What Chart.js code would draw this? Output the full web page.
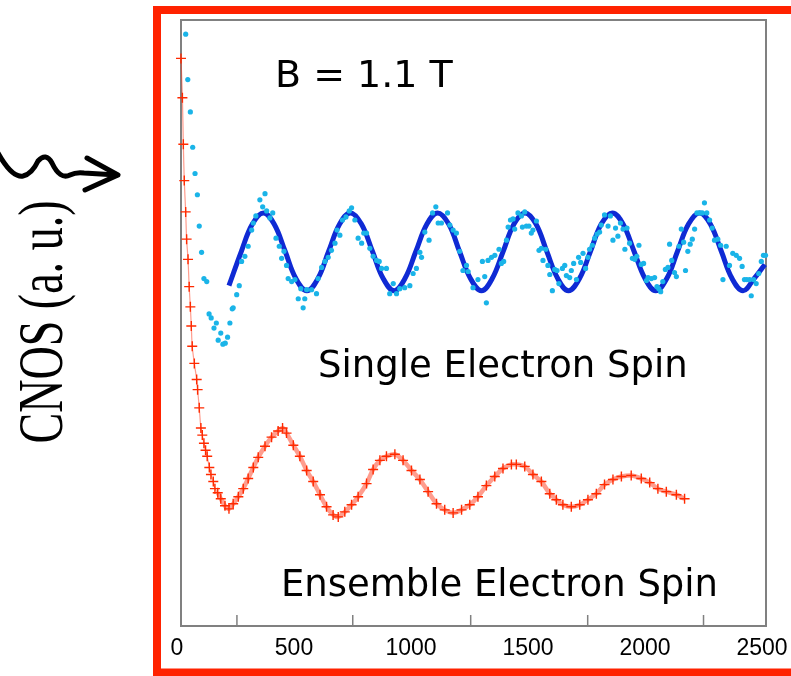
<!DOCTYPE html>
<html>
<head>
<meta charset="utf-8">
<script src="https://cdn.jsdelivr.net/npm/chart.js@4.4.1/dist/chart.umd.min.js"></script>
<style>
  html, body { margin: 0; padding: 0; background: #fff; }
  #wrap { width: 791px; height: 676px; }
</style>
</head>
<body>
<div id="wrap"><canvas id="cnos" width="791" height="676"></canvas></div>
<script>
// x: time, y: CNOS signal (a. u.)
const xTickLabels = [0, 500, 1000, 1500, 2000, 2500];
const xTickMarks = [239, 734, 1238, 1738, 2233];

const singleTime = [
  20, 29, 40, 50, 60, 70, 78, 88, 98, 110, 120, 129, 141, 151, 159, 170, 179, 189, 199, 209, 219,
  223, 238, 249, 259, 273, 287, 302, 309, 320, 337, 349, 359, 366, 380, 392, 406, 420, 430, 440, 451,
  458, 473, 487, 501, 512, 522, 529, 537, 558, 579, 586, 601, 615, 629, 643, 658, 667, 679, 690, 705,
  719, 729, 743, 757, 772, 781, 793, 807, 821, 836, 847, 857, 878, 892, 907, 921, 935, 956, 978, 992,
  1006, 1021, 1028, 1042, 1060, 1075, 1089, 1099, 1113, 1139, 1149, 1163, 1177, 1191, 1205, 1220, 1227, 1248, 1269, 1288,
  1298, 1305, 1312, 1327, 1341, 1359,
  1369, 1379, 1391, 1398, 1408, 1419, 1426, 1440, 1455, 1459, 1469, 1476, 1487, 1497, 1504, 1519, 1530, 1540, 1547, 1559,
  1568, 1576, 1587, 1597, 1607, 1615, 1630, 1640, 1647, 1661, 1668, 1678, 1690, 1699, 1708, 1718, 1729, 1739, 1746, 1758,
  1768, 1778, 1789, 1796, 1810, 1825, 1835, 1846, 1857, 1867, 1878, 1889, 1897, 1906, 1917, 1929, 1939, 1948, 1957, 1967,
  1977, 1989, 1996, 2010, 2024, 2034, 2042, 2050, 2059, 2070, 2081, 2088, 2097, 2109, 2117, 2128, 2138, 2148, 2156, 2166,
  2176, 2185, 2195, 2205, 2216, 2228, 2237, 2247, 2259, 2270, 2280, 2294, 2306, 2316, 2330, 2344, 2358, 2373, 2387, 2398,
  2408, 2418, 2430, 2437, 2447, 2458, 2469, 2480, 2489, 2498
];
const singleCnos = [
  5.86, 5.41, 5.09, 4.74, 4.48, 4.27, 3.96, 3.70, 3.44, 3.41, 3.09, 3.05, 2.95, 3.00, 2.83, 2.90, 2.79, 2.80, 2.86, 3.00, 3.14,
  3.15, 3.28, 3.37, 3.61, 3.66, 3.76, 3.92, 3.99, 4.06, 4.22, 4.15, 4.28, 4.11, 4.04, 4.09, 3.84, 3.76, 3.64, 3.71, 3.57,
  3.44, 3.41, 3.43, 3.24, 3.34, 3.15, 3.24, 3.33, 3.33, 3.29, 3.44, 3.55, 3.61, 3.65, 3.72, 3.79, 3.92, 3.87, 4.02, 4.05,
  4.11, 4.14, 4.02, 3.84, 3.79, 3.89, 3.89, 3.74, 3.66, 3.62, 3.61, 3.54, 3.54, 3.29, 3.39, 3.29, 3.34, 3.35, 3.37, 3.49,
  3.54, 3.70, 3.65, 3.90, 3.82, 4.09, 4.15, 3.99, 3.99, 4.09, 3.97, 3.92, 3.89, 3.71, 3.52, 3.57, 3.51, 3.35, 3.43, 3.61,
  3.46, 3.20, 3.62, 3.65, 3.67, 3.73,
  3.59, 3.61, 3.82, 3.95, 4.02, 4.03, 3.93, 4.09, 4.06, 3.95, 4.10, 3.96, 3.96, 3.89, 3.92, 4.01, 3.72, 3.74, 3.62, 3.73,
  3.57, 3.48, 3.32, 3.53, 3.52, 3.39, 3.54, 3.57, 3.47, 3.45, 3.52, 3.59, 3.43, 3.65, 3.60, 3.69, 3.54, 3.65, 3.73, 3.77,
  3.84, 3.88, 3.90, 3.97, 4.07, 3.96, 4.06, 3.82, 3.94, 3.86, 3.99, 3.93, 3.73, 3.94, 3.79, 3.64, 3.63, 3.66, 3.77, 3.58,
  3.59, 3.42, 3.45, 3.44, 3.45, 3.36, 3.34, 3.31, 3.41, 3.53, 3.55, 3.78, 3.62, 3.50, 3.46, 3.76, 3.93, 3.80, 3.52, 3.71,
  3.78, 3.83, 3.93, 4.09, 4.09, 4.09, 4.19, 4.09, 4.02, 3.94, 3.82, 3.83, 3.77, 3.43, 3.76, 3.57, 3.69, 3.67, 3.64, 3.56,
  3.43, 3.43, 3.43, 3.27, 3.43, 3.39, 3.49, 3.61, 3.67, 3.67
];

const fitTime = [
  205, 258, 305, 352, 398, 445, 491, 538, 585, 631, 678, 724, 771, 818, 864, 911, 957,
  1004, 1051, 1097, 1144, 1190, 1237, 1284, 1330, 1377, 1423, 1470, 1517, 1563, 1610, 1656,
  1703, 1750, 1796, 1843, 1889, 1936, 1983, 2029, 2076, 2122, 2169, 2216, 2262, 2309, 2355,
  2402, 2449, 2495
];
const fitCnos = [
  3.37, 3.71, 3.98, 4.09, 3.98, 3.71, 3.44, 3.32, 3.44, 3.71, 3.98, 4.09, 3.98, 3.71, 3.44, 3.32, 3.44,
  3.71, 3.98, 4.09, 3.98, 3.71, 3.44, 3.32, 3.44, 3.71, 3.98, 4.09, 3.98, 3.71, 3.44, 3.32,
  3.44, 3.71, 3.98, 4.09, 3.98, 3.71, 3.44, 3.32, 3.44, 3.71, 3.98, 4.09, 3.98, 3.71, 3.44,
  3.32, 3.44, 3.58
];

const ensembleTime = [
  0, 6, 10, 14, 20, 24, 30, 35, 40, 44, 48, 57, 67, 71, 78, 85, 91, 98, 105, 112,
  121, 128, 138, 145, 157, 170, 188, 205, 223, 245, 266, 287, 309, 330, 359, 387, 415, 434, 451, 480,
  508, 537, 565, 594, 622, 650, 672, 700, 729, 757, 793, 821, 850, 878, 914, 949, 985, 1021, 1056, 1092,
  1127, 1163, 1199, 1234, 1269, 1305, 1341, 1376, 1412, 1433, 1469, 1504, 1540, 1576, 1604, 1632, 1668, 1704, 1739, 1775,
  1810, 1846, 1882, 1924, 1967, 2003, 2038, 2074, 2117, 2152
];
const ensembleCnos = [
  5.62, 5.23, 4.77, 4.41, 4.10, 3.83, 3.63, 3.36, 3.16, 2.97, 2.77, 2.60, 2.44, 2.34, 2.16, 1.96, 1.89, 1.81, 1.74, 1.68,
  1.57, 1.50, 1.43, 1.36, 1.32, 1.26, 1.19, 1.16, 1.21, 1.28, 1.36, 1.46, 1.57, 1.67, 1.78, 1.87, 1.93, 1.96, 1.91, 1.79,
  1.68, 1.54, 1.43, 1.30, 1.18, 1.10, 1.08, 1.13, 1.20, 1.28, 1.41, 1.55, 1.64, 1.68, 1.70, 1.64, 1.54, 1.45, 1.33, 1.21,
  1.15, 1.12, 1.15, 1.20, 1.28, 1.39, 1.48, 1.56, 1.60, 1.60, 1.58, 1.50, 1.43, 1.31, 1.25, 1.20, 1.18, 1.20, 1.25, 1.31,
  1.40, 1.45, 1.48, 1.49, 1.46, 1.42, 1.36, 1.33, 1.30, 1.26
];

const toPoints = (xs, ys) => xs.map((x, i) => ({ x: x, y: ys[i] }));

// plot frame goes under the data
const plotFrame = {
  id: 'plotFrame',
  beforeDatasetsDraw(chart) {
    const { ctx, chartArea: a, scales } = chart;
    ctx.save();
    ctx.strokeStyle = '#808080';
    ctx.lineWidth = 2;
    ctx.strokeRect(a.left, a.top, a.right - a.left, a.bottom - a.top);
    // tick marks point into the plot
    ctx.lineWidth = 1.5;
    ctx.beginPath();
    xTickMarks.forEach(v => {
      const px = scales.x.getPixelForValue(v);
      ctx.moveTo(px, a.bottom);
      ctx.lineTo(px, a.bottom - 11);
    });
    ctx.stroke();
    ctx.restore();
  }
};

// texts, squiggle arrow and the red outer box
const decorations = {
  id: 'decorations',
  afterDraw(chart) {
    const ctx = chart.ctx;
    ctx.save();

    ctx.strokeStyle = '#ff2200';
    ctx.lineWidth = 8;
    ctx.strokeRect(157, 10, 700, 662.5);

    ctx.fillStyle = '#000';
    ctx.textAlign = 'left';
    ctx.textBaseline = 'alphabetic';
    ctx.font = '38px "DejaVu Sans"';
    ctx.fillText('B = 1.1 T', 275, 87, 179);
    ctx.font = '37px "DejaVu Sans"';
    ctx.fillText('Single Electron Spin', 318, 377, 372);
    ctx.fillText('Ensemble Electron Spin', 281, 596, 437);

    // y title, squeezed along its length like in the original
    ctx.save();
    ctx.font = '64px "Liberation Serif", "Times New Roman", serif';
    const label = 'CNOS (a. u.)';
    const w = ctx.measureText(label).width;
    ctx.translate(62, 322);
    ctx.rotate(-Math.PI / 2);
    ctx.scale(243 / w, 1);
    ctx.textAlign = 'center';
    ctx.fillText(label, 0, 0);
    ctx.restore();

    // squiggle arrow pointing at the signal
    ctx.strokeStyle = '#000';
    ctx.lineWidth = 5;
    ctx.lineCap = 'round';
    ctx.lineJoin = 'round';
    ctx.beginPath();
    ctx.moveTo(-2, 153);
    ctx.quadraticCurveTo(12, 178, 23, 176);
    ctx.quadraticCurveTo(32, 174, 38, 161);
    ctx.quadraticCurveTo(46, 152, 52, 163);
    ctx.quadraticCurveTo(60, 180, 70, 175);
    ctx.quadraticCurveTo(76, 172, 84, 173);
    ctx.lineTo(117, 175);
    ctx.stroke();
    ctx.beginPath();
    ctx.moveTo(87, 158);
    ctx.lineTo(118, 175);
    ctx.lineTo(85, 190);
    ctx.stroke();

    ctx.restore();
  }
};

new Chart(document.getElementById('cnos'), {
  type: 'scatter',
  data: {
    datasets: [
      {
        label: 'Single electron spin',
        data: toPoints(singleTime, singleCnos),
        backgroundColor: '#1ab4e8',
        borderWidth: 0,
        pointRadius: 2.6,
        clip: 6
      },
      {
        label: 'Fit',
        data: toPoints(fitTime, fitCnos),
        showLine: true,
        borderColor: '#0f2ad4',
        borderWidth: 5,
        tension: 0.4,
        pointRadius: 0,
        clip: 6
      },
      {
        label: 'Ensemble electron spin',
        data: toPoints(ensembleTime, ensembleCnos),
        showLine: true,
        borderColor: 'rgba(255, 60, 30, 0.5)',
        borderWidth: 1.2,
        segment: {
          // the oscillating part looks like a thick fuzzy band in the original
          borderWidth: c => (c.p0.parsed.x >= 150 ? 4.5 : 1.2)
        },
        tension: 0.3,
        pointStyle: 'cross',
        pointRadius: 5,
        pointBorderColor: '#ff2a00',
        pointBorderWidth: 1.4,
        clip: 8
      }
    ]
  },
  options: {
    responsive: false,
    animation: false,
    layout: { padding: { left: 181, right: 25, top: 20, bottom: 0 } },
    plugins: { legend: { display: false }, tooltip: { enabled: false } },
    scales: {
      x: {
        type: 'linear',
        min: 0,
        max: 2500,
        grid: { display: false, drawTicks: false },
        border: { display: false },
        afterBuildTicks: axis => { axis.ticks = xTickLabels.map(v => ({ value: v })); },
        afterFit: axis => {
          axis.height = 50;
          axis.paddingLeft = 0;
          axis.paddingRight = 0;
        },
        ticks: {
          padding: 9,
          labelOffset: -4,
          color: '#000',
          font: { family: '"Liberation Sans", Arial', size: 23 },
          callback: v => String(v)
        }
      },
      y: { min: 0, max: 6, display: false }
    }
  },
  plugins: [plotFrame, decorations]
});
</script>
</body>
</html>
